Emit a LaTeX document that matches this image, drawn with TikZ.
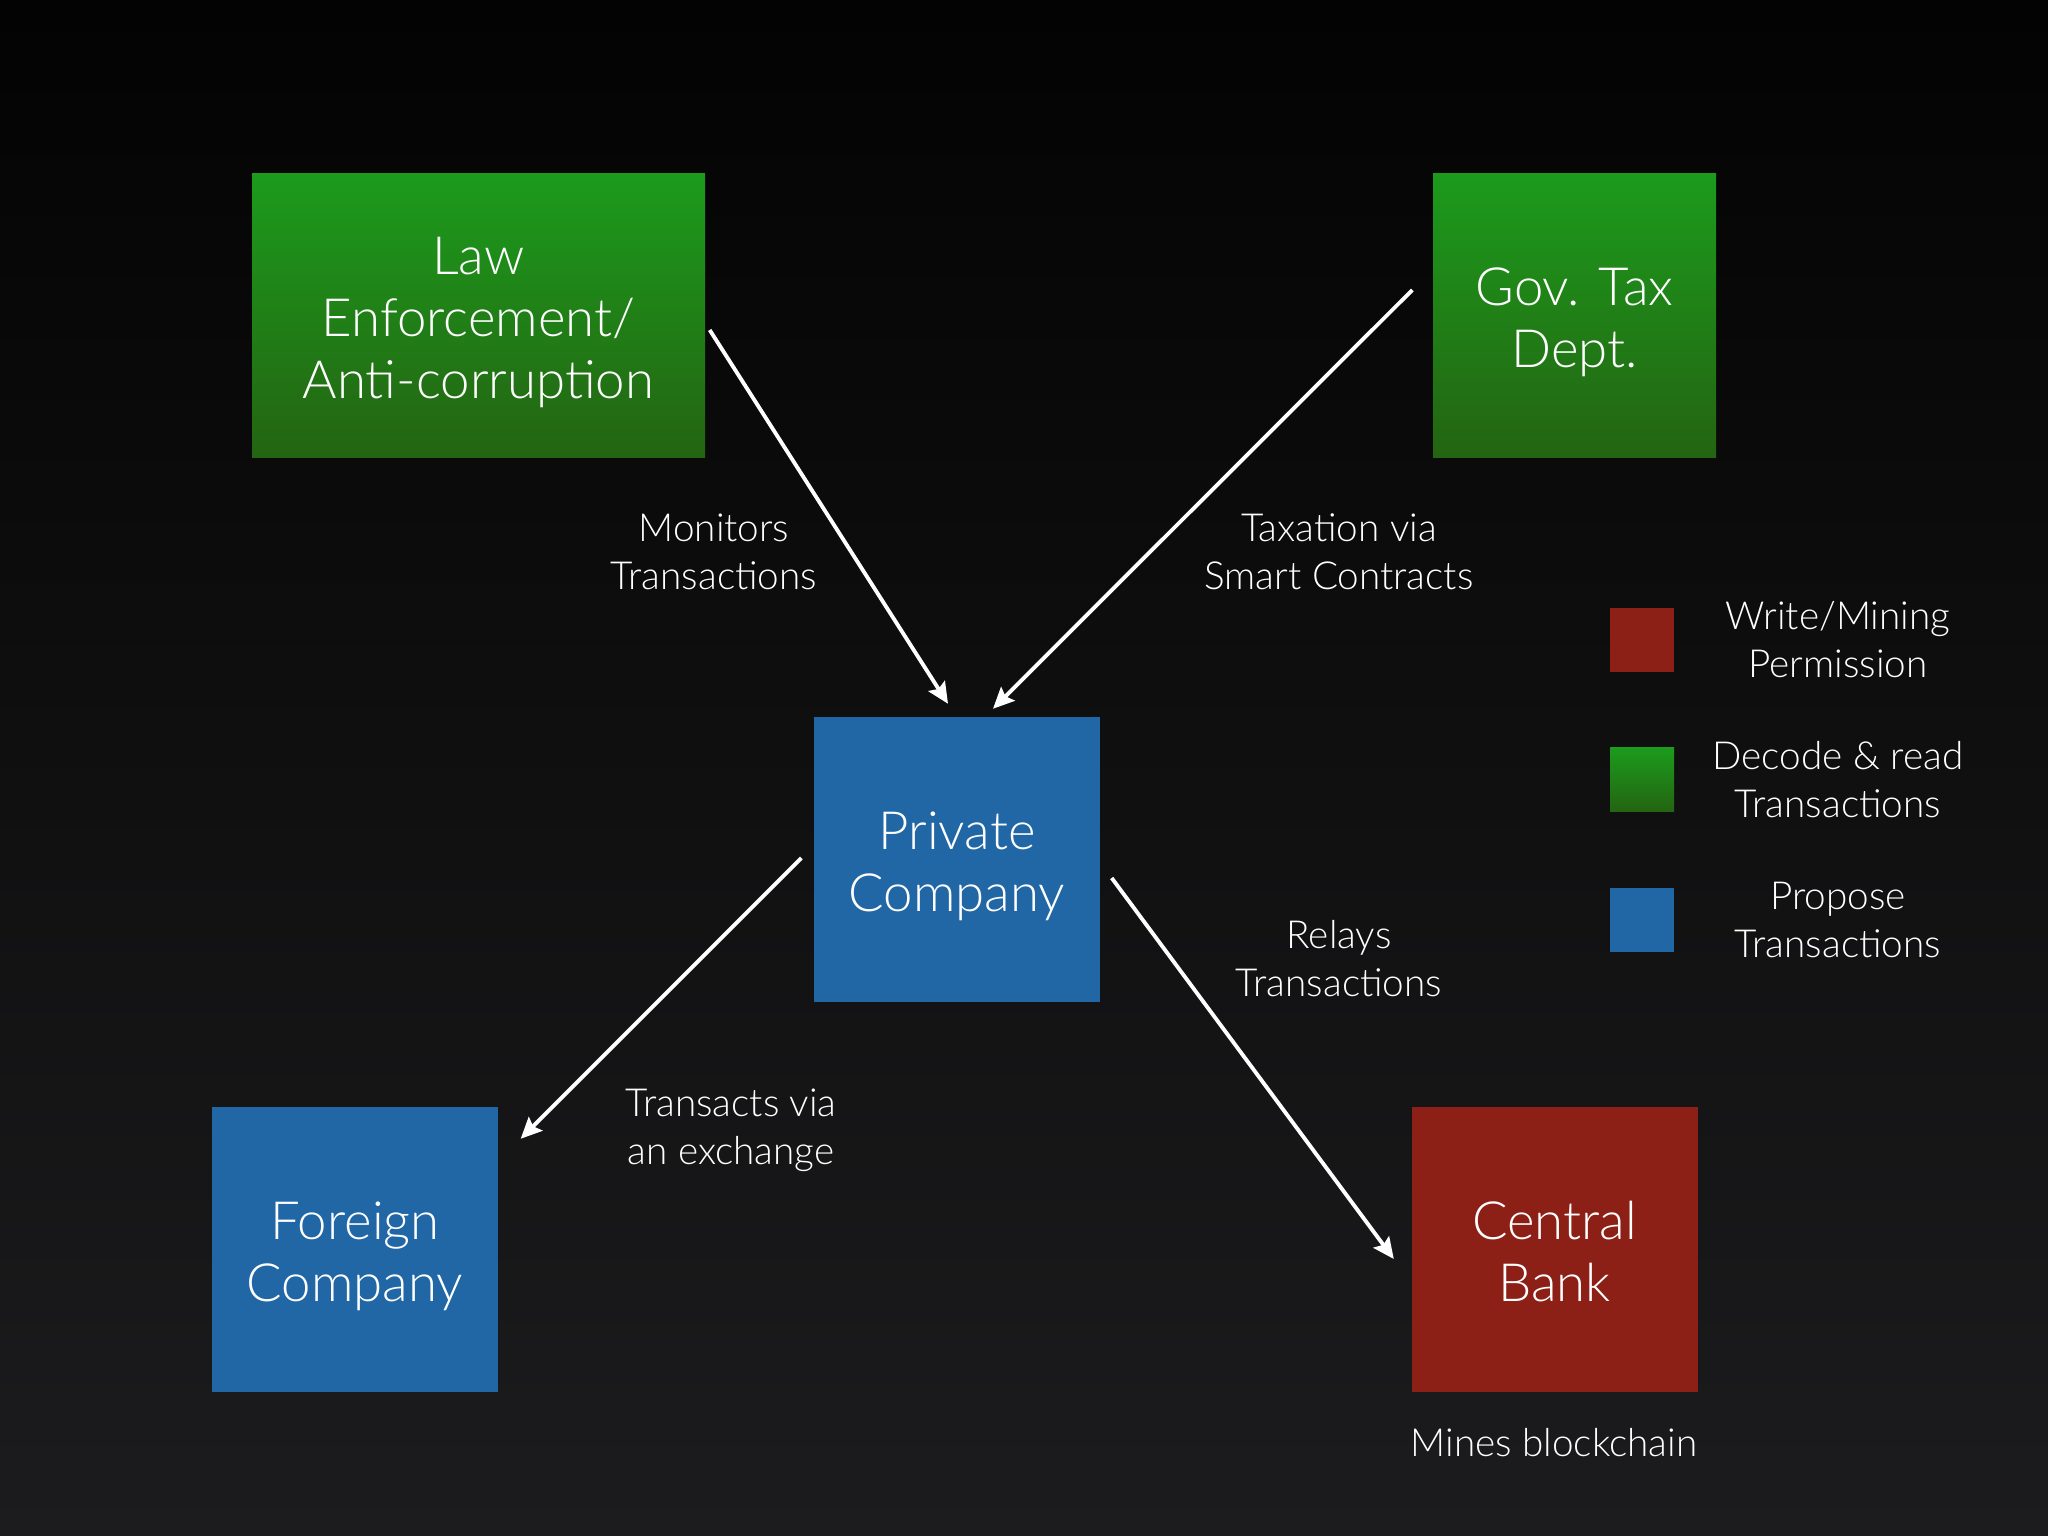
\documentclass[tikz,border=0pt]{standalone}
\usepackage{fontspec}
\setmainfont{Lato}[UprightFont=* Light]
\usetikzlibrary{arrows.meta}
\definecolor{bgtop}{RGB}{3,3,3}
\definecolor{bgbot}{RGB}{28,28,30}
\definecolor{grtop}{RGB}{28,155,28}
\definecolor{grbot}{RGB}{36,100,18}
\definecolor{blbox}{RGB}{33,102,165}
\definecolor{rdbox}{RGB}{140,32,22}
\tikzset{every node/.append style={font=\fontsize{11}{13.7}\selectfont, text=white, align=center}}
\tikzset{
  box/.style={minimum width=2.86cm, minimum height=2.85cm, inner sep=0pt},
  boxtext/.style={font=\fontsize{15}{17.6}\selectfont, yshift=-0.065cm},
  greenbox/.style={box, top color=grtop, bottom color=grbot},
  bluebox/.style={box, fill=blbox},
  redbox/.style={box, fill=rdbox},
  swatch/.style={minimum size=0.64cm, inner sep=0pt},
  arr/.style={-{Stealth[length=6pt, width=5.5pt, inset=1pt]}, draw=white, line width=1.1pt}
}

\begin{document}
\begin{tikzpicture}
    % background
    \shade[top color=bgtop, bottom color=bgbot] (0,0) rectangle (20.48,15.36);
    \useasboundingbox (0,0) rectangle (20.48,15.36);

    % boxes
    \node[greenbox, minimum width=4.53cm, minimum height=2.84cm] (law) at (4.785,12.20) {};
    \node[greenbox, minimum width=2.83cm, minimum height=2.84cm] (gov) at (15.745,12.20) {};
    \node[bluebox] (private) at (9.57,6.76) {};
    \node[bluebox] (foreign) at (3.55,2.86) {};
    \node[redbox] (central) at (15.545,2.86) {};
    \node[boxtext] (lawtxt) at (law) {Law\\Enforcement/\\Anti-corruption};
    \node[boxtext] (govtxt) at (gov) {Gov. Tax\\Dept.};
    \node[boxtext] (privatetxt) at (private) {Private\\Company};
    \node[boxtext] (foreigntxt) at (foreign) {Foreign\\Company};
    \node[boxtext, yshift=0.05cm] (centraltxt) at (central) {Central\\Bank};

    % connectors
    \draw[arr] ([shift={(0.04,-0.14)}]law.east) -- ([shift={(-0.09,0.13)}]private.north);
    \draw[arr] ([shift={(-0.20,0.26)}]gov.west) -- ([shift={(0.36,0.08)}]private.north);
    \draw[arr] ([shift={(-0.12,0.02)}]private.west) -- ([shift={(0.22,-0.32)}]foreign.north east);
    \draw[arr] ([shift={(0.11,-0.18)}]private.east) -- ([shift={(-0.17,-0.09)}]central.west);

    % labels
    \node (monitors) at (7.14,9.84) {Monitors\\Transactions};
    \node (taxation) at (13.39,9.84) {Taxation via\\Smart Contracts};
    \node (relays) at (13.39,5.77) {Relays\\Transactions};
    \node (transacts) at (7.31,4.06) {Transacts via\\an exchange};
    \node (mines) at (15.54,0.93) {Mines blockchain};

    % legend
    \node[swatch, fill=rdbox] (kwrite) at (16.42,8.96) {};
    \node[swatch, top color=grtop, bottom color=grbot] (kread) at (16.42,7.56) {};
    \node[swatch, fill=blbox] (kprop) at (16.42,6.16) {};
    \node (lwrite) at (18.38,8.96) {Write/Mining\\Permission};
    \node (lread) at (18.38,7.56) {Decode \& read\\Transactions};
    \node (lprop) at (18.38,6.16) {Propose\\Transactions};
\end{tikzpicture}
\end{document}
